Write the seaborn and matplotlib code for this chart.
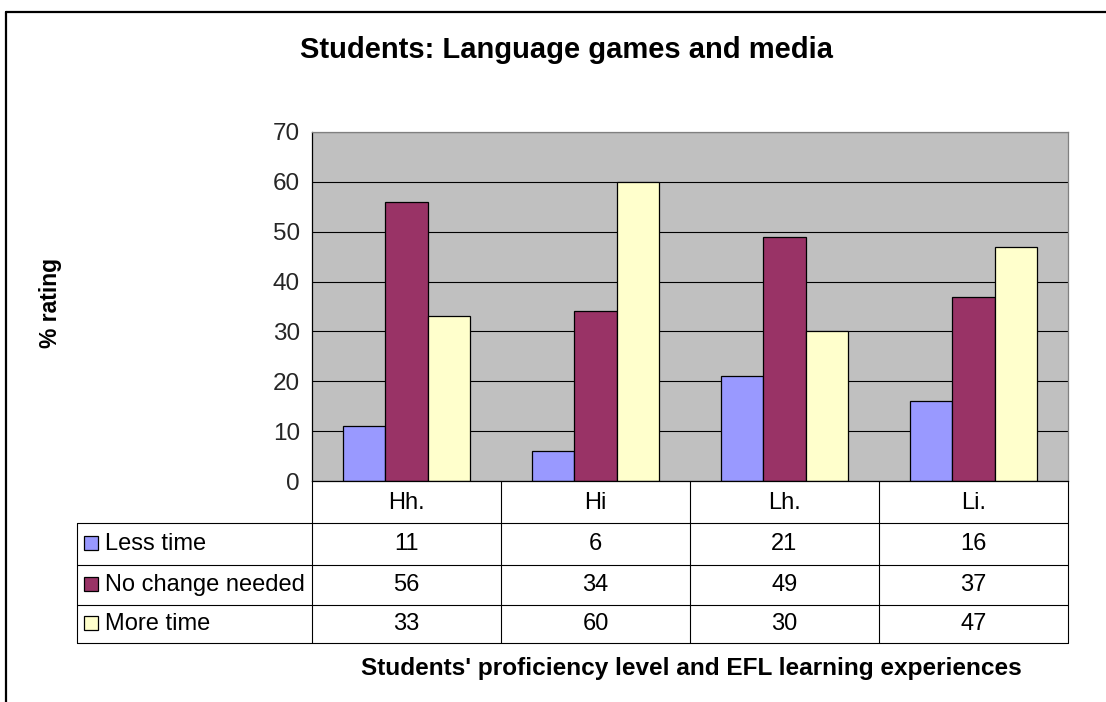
import matplotlib
matplotlib.use("Agg")
import matplotlib.pyplot as plt
import matplotlib.transforms as mtransforms
from matplotlib.lines import Line2D
import seaborn as sns
import pandas as pd

categories = ["Hh.", "Hi", "Lh.", "Li."]
series = ["Less time", "No change needed", "More time"]
less_time = [11, 6, 21, 16]
no_change = [56, 34, 49, 37]
more_time = [33, 60, 30, 47]
colors = ["#9999FF", "#993366", "#FFFFCC"]
yticks = [0, 10, 20, 30, 40, 50, 60, 70]

values = [less_time, no_change, more_time]
rows = []
for s, vals in zip(series, values):
    for c, v in zip(categories, vals):
        rows.append({"cat": c, "series": s, "val": v})
df = pd.DataFrame(rows)

sns.set_theme(style="white")
plt.rcParams["font.family"] = ["Liberation Sans", "DejaVu Sans"]

W, H = 1106, 702
fig = plt.figure(figsize=(W / 100, H / 100), dpi=100)
fig.patch.set_facecolor("white")

def fx(px):
    return px / W

def fy(py):
    return 1 - py / H

ax = fig.add_axes([fx(312), fy(481), fx(1068) - fx(312), fy(132) - fy(481)])
ax.set_facecolor("#C0C0C0")
ax.set_axisbelow(True)
ax.yaxis.grid(True, color="black", linewidth=0.8)
ax.xaxis.grid(False)

sns.barplot(data=df, x="cat", y="val", hue="series", order=categories,
            hue_order=series, palette=colors, saturation=1, width=0.667,
            edgecolor="black", linewidth=0.9, ax=ax, legend=False)

ax.set_ylim(0, 70)
ax.set_xlim(-0.5, len(categories) - 0.5)
ax.set_yticks(yticks)
ax.set_yticklabels([str(t) for t in yticks], fontsize=17.5)
ax.tick_params(axis="y", direction="out", length=5.8, width=0.8, color="black", pad=3)
ax.tick_params(axis="x", length=0, labelbottom=False)
ax.set_xlabel("")
ax.set_ylabel("")
for side in ["left", "bottom"]:
    ax.spines[side].set_color("black")
    ax.spines[side].set_linewidth(0.9)
for side in ["top", "right"]:
    ax.spines[side].set_color("#808080")
    ax.spines[side].set_linewidth(0.9)

# Data table below the plot
trans_d = mtransforms.blended_transform_factory(ax.transData, fig.transFigure)
trans_a = mtransforms.blended_transform_factory(ax.transAxes, fig.transFigure)
row_bounds = [481, 523, 565, 605, 643]
left_ax = (77 - 312) / (1068 - 312)

for yb in row_bounds[1:]:
    ax.add_line(Line2D([left_ax, 1], [fy(yb), fy(yb)], transform=trans_a,
                       color="black", lw=0.8, clip_on=False))
ax.add_line(Line2D([left_ax, left_ax], [fy(523), fy(643)], transform=trans_a,
                   color="black", lw=0.8, clip_on=False))
for k in range(len(categories) + 1):
    xb = k - 0.5
    ax.add_line(Line2D([xb, xb], [fy(481), fy(643)], transform=trans_d,
                       color="black", lw=0.8, clip_on=False))

for i, c in enumerate(categories):
    ax.text(i, fy(503), c, transform=trans_d, ha="center", va="center",
            fontsize=17, color="black")
for r, (s, vals, col) in enumerate(zip(series, values, colors)):
    yc = fy((row_bounds[r + 1] + row_bounds[r + 2]) / 2)
    ax.plot([(91 - 312) / 756], [yc + 0.002], marker="s", ms=9.5, mfc=col, mec="black",
            mew=0.9, transform=trans_a, clip_on=False)
    ax.text((105 - 312) / 756, yc, s, transform=trans_a, ha="left", va="center",
            fontsize=17, color="black")
    for i, v in enumerate(vals):
        ax.text(i, yc, str(v), transform=trans_d, ha="center", va="center",
                fontsize=17, color="black")

fig.text(fx(566), fy(50), "Students: Language games and media", ha="center",
         va="center", fontsize=21, fontweight="bold", color="black")
fig.text(fx(691), fy(668), "Students' proficiency level and EFL learning experiences",
         ha="center", va="center", fontsize=17.6, fontweight="bold", color="black")
fig.text(fx(50), fy(303), "% rating", ha="center", va="center", rotation=90,
         fontsize=16.5, fontweight="bold", color="black")

fig.add_artist(Line2D([fx(6), fx(6)], [0, fy(12)], color="black", lw=1.6,
                      transform=fig.transFigure))
fig.add_artist(Line2D([fx(6), 1], [fy(12), fy(12)], color="black", lw=1.6,
                      transform=fig.transFigure))

fig.savefig("out.png", dpi=100, facecolor="white")
